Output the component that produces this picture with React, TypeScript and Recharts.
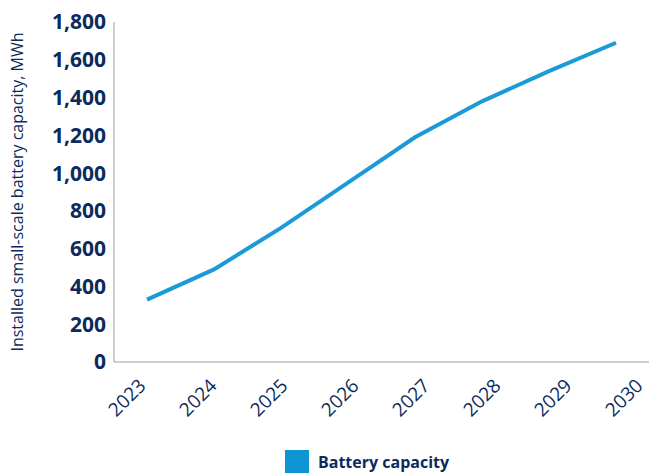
import { Legend, Line, LineChart, XAxis, YAxis } from "recharts";

const years = ["2023", "2024", "2025", "2026", "2027", "2028", "2029", "2030"];
const capacity = [330, 490, 710, 950, 1190, 1380, 1540, 1690];
const yTicks = [0, 200, 400, 600, 800, 1000, 1200, 1400, 1600, 1800];

const data = years.map((year, i) => ({ year, capacity: capacity[i] }));

const NAVY = "#0c2a5c";
const BLUE = "#1a9bd7";
const FONT = "'Open Sans', sans-serif";

const YearTick = ({ x, y, payload }: any) => (
  <text
    x={0}
    y={0}
    textAnchor="end"
    transform={`translate(${x}, ${y + 17}) rotate(-45)`}
    fill={NAVY}
    fontSize={19}
    fontWeight={400}
    fontFamily={FONT}
  >
    {payload.value}
  </text>
);

const YLabel = ({ viewBox }: any) => {
  const cx = viewBox.x - 13;
  const cy = viewBox.y + viewBox.height / 2;
  return (
    <text
      x={cx}
      y={cy}
      transform={`rotate(-90, ${cx}, ${cy})`}
      textAnchor="middle"
      dominantBaseline="central"
      fill={NAVY}
      fontSize={16}
      fontFamily={FONT}
    >
      Installed small-scale battery capacity, MWh
    </text>
  );
};

const LegendBox = () => (
  <div style={{ display: "flex", alignItems: "center", fontFamily: FONT }}>
    <div style={{ width: 24, height: 23, background: "#0e94d2", marginRight: 9 }} />
    <span style={{ color: NAVY, fontWeight: 700, fontSize: 16 }}>Battery capacity</span>
  </div>
);

export default function App() {
  return (
    <div style={{ position: "absolute", left: 0, top: 0 }}>
      <LineChart
        width={649}
        height={474}
        data={data}
        margin={{ top: 22, right: 0, left: 30, bottom: 0 }}
      >
        <XAxis
          xAxisId="line"
          dataKey="year"
          scale="point"
          padding={{ left: 33, right: 33 }}
          hide
        />
        <XAxis
          xAxisId="labels"
          dataKey="year"
          scale="point"
          padding={{ left: 33, right: 5 }}
          height={80}
          axisLine={{ stroke: "#bfbfbf", strokeWidth: 1.5 }}
          tickLine={false}
          tickSize={0}
          tickMargin={8}
          interval={0}
          tick={<YearTick />}
        />
        <YAxis
          width={84}
          domain={[0, 1800]}
          ticks={yTicks}
          interval={0}
          axisLine={{ stroke: "#bfbfbf", strokeWidth: 1.5 }}
          tickLine={false}
          tickSize={0}
          tickMargin={8}
          tickFormatter={(v: number) => v.toLocaleString("en-US")}
          tick={{ fill: NAVY, fontSize: 21, fontWeight: 700, fontFamily: FONT }}
          label={<YLabel />}
        />
        <Line
          xAxisId="line"
          dataKey="capacity"
          name="Battery capacity"
          type="linear"
          stroke={BLUE}
          strokeWidth={4}
          dot={false}
          activeDot={false}
          isAnimationActive={false}
        />
        <Legend
          verticalAlign="bottom"
          height={32}
          content={<LegendBox />}
          wrapperStyle={{ left: 285, top: 450, width: "auto" }}
        />
      </LineChart>
    </div>
  );
}
